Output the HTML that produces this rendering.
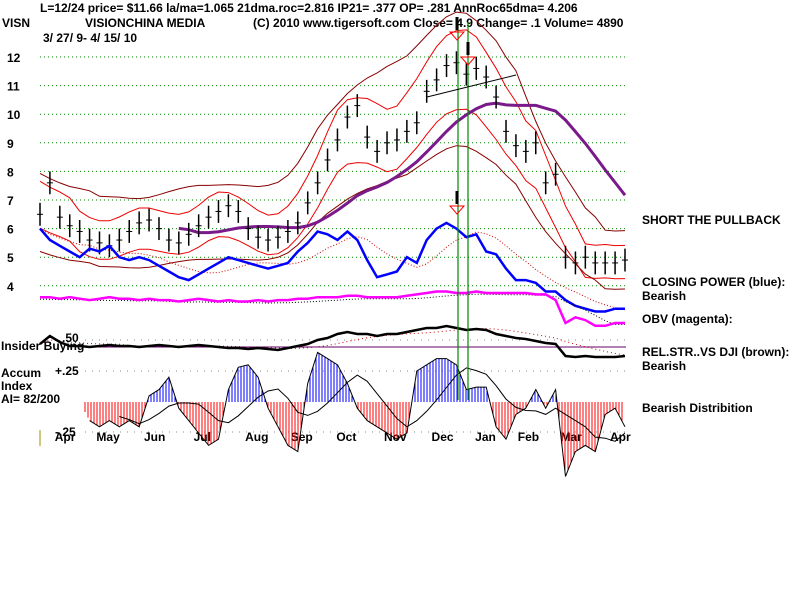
<!DOCTYPE html>
<html><head><meta charset="utf-8"><style>
body{margin:0;background:#fff;}
svg{display:block;font-family:"Liberation Sans",sans-serif;font-weight:bold;font-size:12px;}
</style></head><body>
<svg id="c" width="800" height="600" xmlns="http://www.w3.org/2000/svg">
<rect width="800" height="600" fill="#fff"/>
<g>
<text x="40" y="12">L=12/24   price= $11.66  la/ma=1.065 21dma.roc=2.816 IP21= .377 OP= .281 AnnRoc65dma= 4.206</text>
<text x="2" y="27">VISN</text>
<text x="85" y="27">VISIONCHINA MEDIA</text>
<text x="253" y="27">(C) 2010 www.tigersoft.com   Close=  4.9   Change= .1 Volume=  4890</text>
<text x="43" y="42">3/ 27/ 9-  4/ 15/ 10</text>
</g>
<g id="grid"></g><g id="marks"></g>
<g>
<text x="642" y="224">SHORT THE PULLBACK</text>
<text x="642" y="286">CLOSING POWER (blue):</text>
<text x="642" y="300">Bearish</text>
<text x="642" y="323">OBV (magenta):</text>
<text x="642" y="356">REL.STR..VS DJI (brown):</text>
<text x="642" y="370">Bearish</text>
<text x="642" y="412">Bearish Distribition</text>
</g>
<g>
<text x="1" y="350">Insider Buying</text>
<text x="62" y="342">.50</text>
<text x="1" y="377">Accum</text>
<text x="1" y="390">Index</text>
<text x="1" y="403">AI= 82/200</text>
<text x="55" y="375">+.25</text>
<text x="55" y="436">-.25</text>
<line x1="40" y1="430" x2="40" y2="446" stroke="#990"/>
</g>
</svg>
<script>
const priceTicks=[12,11,10,9,8,7,6,5,4];
const months=["Apr","May","Jun","Jul","Aug","Sep","Oct","Nov","Dec","Jan","Feb","Mar","Apr"];
const monthIdx=[2.8,7,11.8,16.8,22,26.6,31.2,36,40.8,45.2,49.5,53.8,58.8];
const price=[6.5,7.6,6.4,6.1,5.9,5.6,5.5,5.4,5.6,5.9,6.2,6.3,6.0,5.6,5.5,5.8,6.1,6.4,6.6,6.8,6.6,6.0,5.7,5.6,5.7,5.9,6.2,6.9,7.6,8.4,9.1,9.9,10.3,9.2,8.7,9.0,9.1,9.4,9.7,10.8,11.2,11.7,11.8,11.4,11.6,11.3,10.6,9.4,8.9,8.7,9.0,7.6,7.9,5.0,4.8,5.0,4.8,4.8,4.8,4.9];
const closingPower=[6.0,5.6,5.4,5.2,5.0,5.3,5.2,5.4,5.0,4.9,5.0,4.9,4.7,4.5,4.3,4.2,4.4,4.6,4.8,5.0,4.9,4.8,4.7,4.6,4.7,4.8,5.2,5.5,5.9,5.8,5.6,5.9,5.6,4.9,4.3,4.4,4.5,5.0,4.8,5.6,6.0,6.2,6.0,5.7,5.8,5.2,5.1,4.6,4.2,4.2,4.1,3.8,3.8,3.5,3.3,3.2,3.1,3.1,3.2,3.2];
const obv=[3.6,3.6,3.55,3.6,3.55,3.5,3.55,3.6,3.55,3.55,3.5,3.55,3.5,3.5,3.45,3.5,3.55,3.5,3.45,3.5,3.45,3.45,3.5,3.45,3.5,3.5,3.55,3.55,3.6,3.6,3.6,3.65,3.65,3.6,3.6,3.6,3.6,3.65,3.7,3.75,3.8,3.8,3.75,3.75,3.8,3.75,3.75,3.75,3.75,3.75,3.7,3.7,3.5,2.7,2.9,2.8,2.6,2.6,2.7,2.7];
const relStr=[0.3,0.7,0.4,0.2,0.2,0.15,0.2,0.25,0.2,0.2,0.15,0.2,0.25,0.2,0.15,0.2,0.25,0.2,0.15,0.1,0.1,0.05,0.1,0.05,0.0,0.1,0.2,0.3,0.5,0.6,0.8,0.9,0.8,0.8,0.7,0.8,0.8,0.9,1.0,1.1,1.1,1.2,1.1,1.0,1.05,1.0,0.8,0.7,0.6,0.55,0.45,0.35,0.3,-0.3,-0.35,-0.3,-0.35,-0.35,-0.35,-0.3];
const accum=[0,0,0,0,0,-0.15,-0.2,-0.15,-0.2,-0.15,-0.2,0.05,0.1,0.2,-0.05,-0.15,-0.25,-0.35,-0.3,0.1,0.28,0.3,0.2,-0.05,-0.2,-0.35,-0.4,0.15,0.4,0.35,0.3,0.15,-0.05,-0.15,-0.2,-0.25,-0.3,-0.25,0.25,0.3,0.35,0.35,0.3,0.1,0.12,0.12,-0.2,-0.3,-0.1,-0.05,0.1,-0.05,0.1,-0.6,-0.4,-0.35,-0.4,-0.1,-0.05,-0.2];

const NS="http://www.w3.org/2000/svg";
const n=price.length;
const X=i=>40+i*585/(n-1);
const Y=v=>57+(12-v)*28.6;
const RY=v=>350-v*20;
const AY=v=>402-v*124;
const grid=document.getElementById('grid'),marks=document.getElementById('marks');
function mk(tag,attrs,parent){const e=document.createElementNS(NS,tag);for(const k in attrs)e.setAttribute(k,attrs[k]);(parent||marks).appendChild(e);return e;}
function line(pts,stroke,w,dash,name){
  const e=mk('polyline',{points:pts.map(p=>p[0].toFixed(1)+','+p[1].toFixed(1)).join(' '),fill:'none',stroke:stroke,'stroke-width':w});
  if(dash)e.setAttribute('stroke-dasharray',dash);
  
  
  return e;
}
function ma(a,k,c){return a.map((v,i)=>{let s=0,m=0;for(let j=i-(c?Math.floor(k/2):k-1);j<=i+(c?Math.floor(k/2):0);j++){if(j>=0&&j<a.length){s+=a[j];m++;}}return s/m;});}
priceTicks.forEach(t=>{
  const g=mk('line',{x1:40,x2:626,y1:Y(t),y2:Y(t),stroke:'#080','stroke-dasharray':'1,3'},grid);
  
  
  const tx=mk('text',{x:7,y:Y(t)+5},grid);tx.textContent=t;
  
  
});
[340,371,432].forEach(y=>{const g=mk('line',{x1:85,x2:626,y1:y,y2:y,stroke:'#888','stroke-dasharray':'1,6'},grid);

});
const il=mk('line',{x1:85,x2:626,y1:347,y2:347,stroke:'#606',"stroke-width":1},grid);


months.forEach((m,i)=>{const t=mk('text',{x:X(monthIdx[i])-13,y:441},grid);t.textContent=m;

});
const m21=ma(price,5,true), m65=ma(price,15,false), m45=ma(price,9,true);
line(m21.map((v,i)=>[X(i),Y(v*1.12)]),'#e00',1,null,'upper-band');
line(m21.map((v,i)=>[X(i),Y(v*0.88)]),'#e00',1,null,'lower-band');
line(m45.map((v,i)=>[X(i),Y(v*1.22)]),'#800',1,null,'outer-upper-band');
line(m45.map((v,i)=>[X(i),Y(v*0.8)]),'#800',1,null,'outer-lower-band');
line(m65.map((v,i)=>[X(i),Y(v)]).slice(14),'#7a1a8a',3,null,'ma65-line');
price.forEach((v,i)=>{
  const b=mk('line',{x1:X(i),x2:X(i),y1:Y(v+0.4),y2:Y(v-0.4),stroke:'#000','stroke-width':1.5});
  
  
  const t=mk('line',{x1:X(i)-3,x2:X(i)+3,y1:Y(v),y2:Y(v),stroke:'#000'});
  
  
});
line(ma(closingPower,6,false).map((v,i)=>[X(i),Y(v)]),'#c00',1,'1,2','closing-power-ma');
line(closingPower.map((v,i)=>[X(i),Y(v)]),'#00f',2.5,null,'closing-power-line');
line(ma(obv,6,false).map((v,i)=>[X(i),Y(v)+2]),'#000',1,'1,2','obv-ma');
line(obv.map((v,i)=>[X(i),Y(v)]),'#f0f',2.5,null,'obv-line');
line(ma(relStr,8,false).map((v,i)=>[X(i),RY(v)]),'#c00',1,'1,3','relstr-ma');
line(relStr.map((v,i)=>[X(i),RY(v)]),'#000',2.5,null,'relstr-line');
for(let x=85;x<=624;x+=3){
  const f=(x-40)/(585/(n-1)),i0=Math.floor(f),i1=Math.min(n-1,i0+1),t=f-i0;
  const v=accum[i0]*(1-t)+accum[i1]*t;
  const h=mk('line',{x1:x,x2:x,y1:AY(0),y2:AY(v),stroke:v>=0?'#00f':'#f00'});
  
  
}
line(accum.map((v,i)=>[X(i),AY(v)]).slice(5),'#000',1,null,'accum-outline');
line(ma(accum,6,false).map((v,i)=>[X(i),AY(v)]).slice(8),'#000',1,null,'accum-ma');
[458,468].forEach(x=>{const g=mk('line',{x1:x,x2:x,y1:22,y2:400,stroke:'#080','stroke-width':1.2});

});
[[457,22],[468,47],[457,196]].forEach(p=>{
  const a=mk('line',{x1:p[0],x2:p[0],y1:p[1]-5,y2:p[1]+8,stroke:'#000','stroke-width':3});
  
  
  const tr=mk('polygon',{points:`${p[0]-7},${p[1]+10} ${p[0]+7},${p[1]+10} ${p[0]},${p[1]+18}`,fill:'none',stroke:'#f00'});
  
  
});
const tl=mk('line',{x1:427,y1:97,x2:516,y2:75,stroke:'#000'});


</script>
</body></html>
